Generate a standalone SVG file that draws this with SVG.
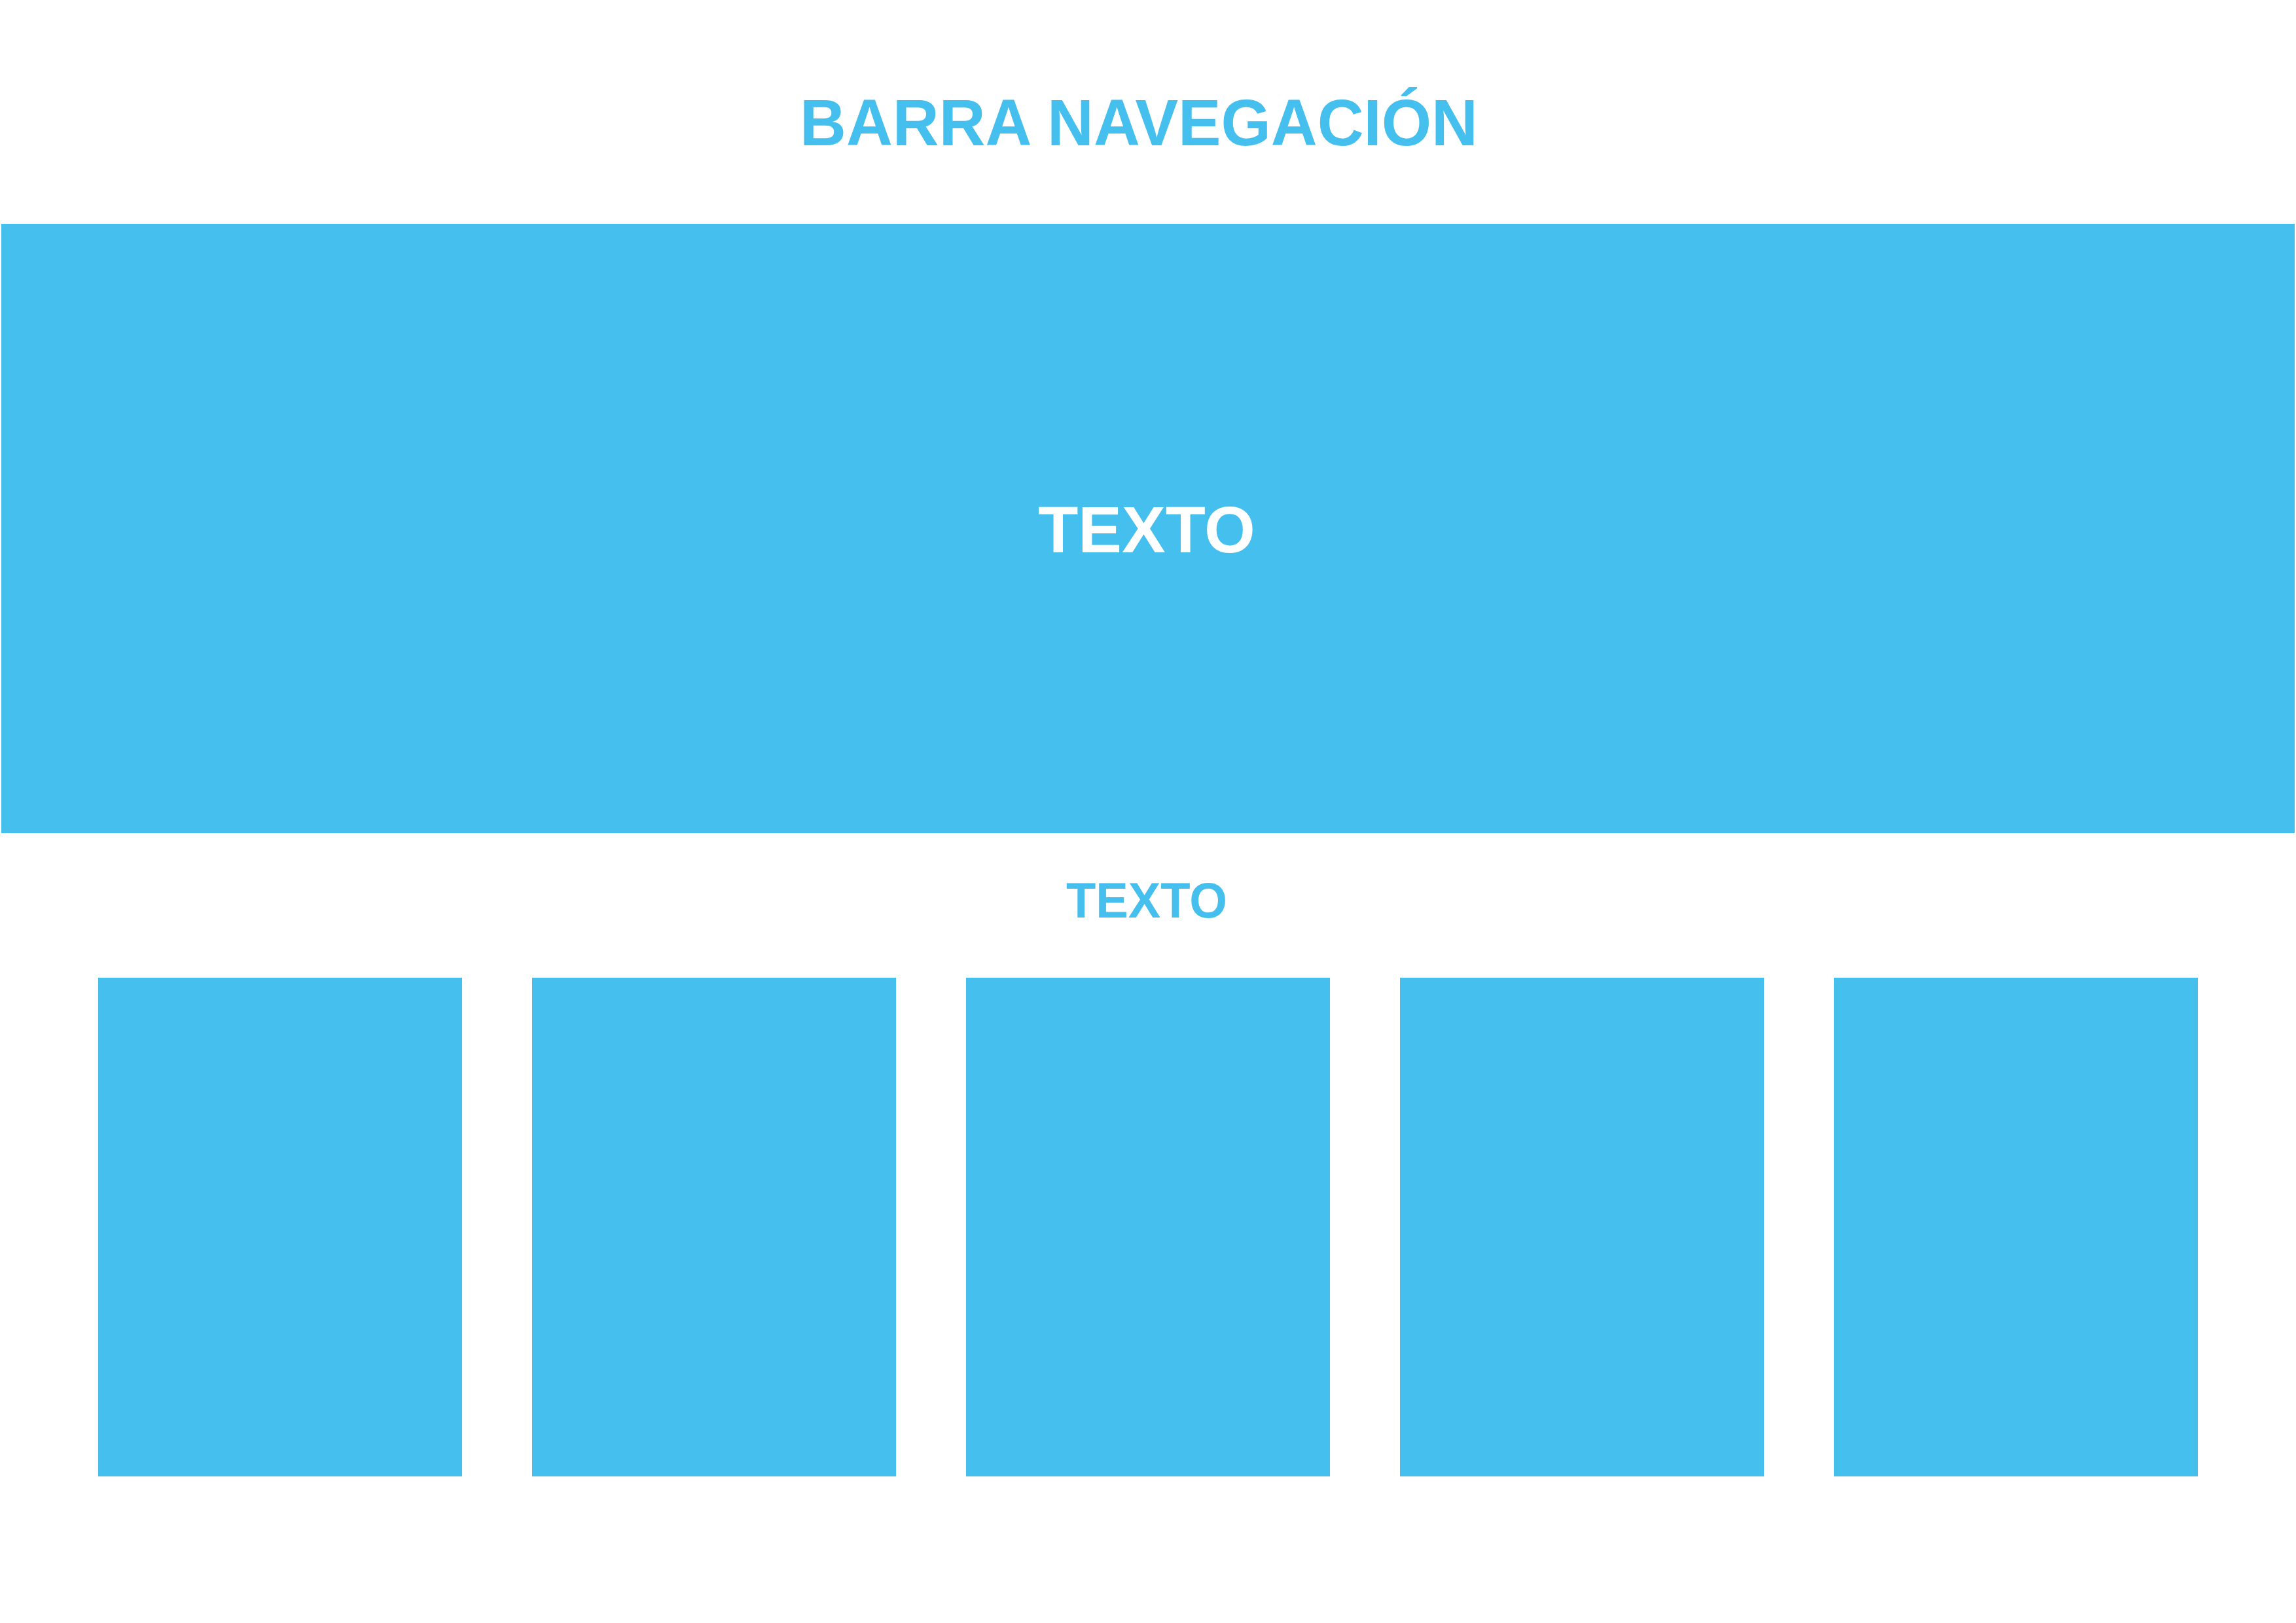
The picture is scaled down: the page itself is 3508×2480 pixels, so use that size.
<svg xmlns="http://www.w3.org/2000/svg" width="3508" height="2480" viewBox="0 0 3508 2480">
<style>
.box{fill:#44bfee;}
.t{font-family:"Liberation Sans",Arial,Helvetica,sans-serif;font-weight:bold;text-anchor:middle;}
.blue{fill:#44bfee;}
.white{fill:#ffffff;}
</style>
<rect x="0" y="0" width="3508" height="2480" fill="#ffffff"/>
<g id="title">
<text class="t blue" x="1740" y="222" font-size="101" textLength="1036" lengthAdjust="spacingAndGlyphs">BARRA NAVEGACIÓN</text>
</g>
<g id="hero">
<rect class="box" x="2" y="342" width="3504" height="931"/>
<text class="t white" x="1752" y="844" font-size="100">TEXTO</text>
</g>
<g id="subtitle">
<text class="t blue" x="1752" y="1402" font-size="76" textLength="246" lengthAdjust="spacingAndGlyphs">TEXTO</text>
</g>
<g id="card1"><rect class="box" x="150" y="1494" width="556" height="762"/></g>
<g id="card2"><rect class="box" x="813" y="1494" width="556" height="762"/></g>
<g id="card3"><rect class="box" x="1476" y="1494" width="556" height="762"/></g>
<g id="card4"><rect class="box" x="2139" y="1494" width="556" height="762"/></g>
<g id="card5"><rect class="box" x="2802" y="1494" width="556" height="762"/></g>
<g id="connectors"/>
</svg>
